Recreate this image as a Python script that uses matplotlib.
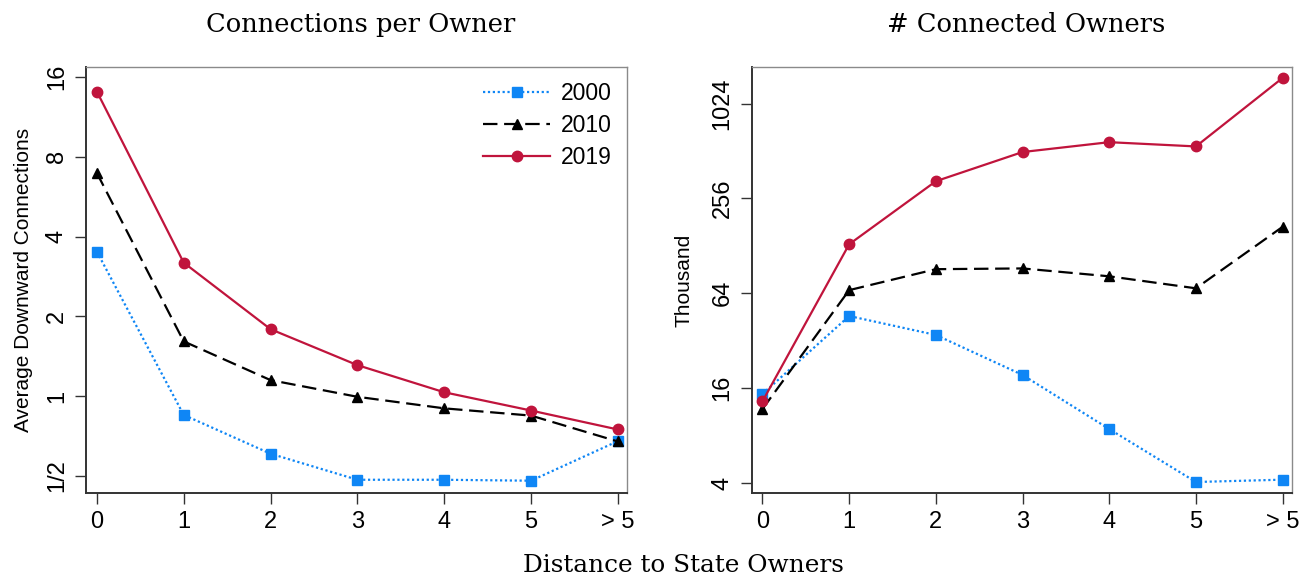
import numpy as np
import matplotlib
matplotlib.use("Agg")
import matplotlib.pyplot as plt

# distance categories shared by both panels
dist_labels = ["0", "1", "2", "3", "4", "5", "> 5"]
years = ["2000", "2010", "2019"]

# average downward connections per owner
conn_2000 = [3.51, 0.85, 0.607, 0.484, 0.484, 0.48, 0.677]
conn_2010 = [6.95, 1.61, 1.15, 0.995, 0.90, 0.845, 0.675]
conn_2019 = [14.1, 3.19, 1.79, 1.31, 1.035, 0.883, 0.749]

# number of connected owners (thousand)
own_2000 = [14.7, 45.9, 34.8, 19.4, 8.8, 4.06, 4.2]
own_2010 = [11.8, 67, 91, 92, 82, 68.8, 169]
own_2019 = [13.2, 131, 329, 504, 582, 547, 1488]

left_ticks = [0.5, 1, 2, 4, 8, 16]
left_ticklabels = ["1/2", "1", "2", "4", "8", "16"]
right_ticks = [4, 16, 64, 256, 1024]
right_ticklabels = ["4", "16", "64", "256", "1024"]

styles = {
    "2000": dict(color="#0f86f5", linestyle=(0, (1, 1.2)), marker="s", markersize=7),
    "2010": dict(color="black", linestyle=(0, (6.5, 3)), marker="^", markersize=7.5),
    "2019": dict(color="#c0143c", linestyle="-", marker="o", markersize=7.5),
}

plt.rcParams["font.family"] = ["Liberation Sans", "DejaVu Sans"]

fig = plt.figure(figsize=(13.07, 5.81), dpi=100)
ax1 = fig.add_axes([0.0658, 0.1515, 0.4139, 0.7332])
ax2 = fig.add_axes([0.5751, 0.1515, 0.4132, 0.7332])

x = np.arange(len(dist_labels))

for y, year in zip([conn_2000, conn_2010, conn_2019], years):
    ax1.plot(x, y, linewidth=1.6, label=year, **styles[year])
for y, year in zip([own_2000, own_2010, own_2019], years):
    ax2.plot(x, y, linewidth=1.6, label=year, **styles[year])


def style_axes(ax, ticks, ticklabels, ylim):
    ax.set_yscale("log", base=2)
    ax.set_ylim(*ylim)
    ax.set_yticks(ticks)
    ax.set_yticklabels(ticklabels, rotation=90, va="center")
    ax.yaxis.set_minor_locator(matplotlib.ticker.NullLocator())
    ax.set_xticks(x)
    ax.set_xticklabels(dist_labels)
    ax.set_xlim(-0.125, 6.105)
    ax.tick_params(axis="both", labelsize=17, length=8, width=1, color="#333333", pad=5)
    for s in ["left", "bottom"]:
        ax.spines[s].set_color("#333333")
        ax.spines[s].set_linewidth(1.4)
    for s in ["top", "right"]:
        ax.spines[s].set_color("#8a8a8a")
        ax.spines[s].set_linewidth(1.0)


style_axes(ax1, left_ticks, left_ticklabels, (2 ** -1.2125, 2 ** 4.125))
style_axes(ax2, right_ticks, right_ticklabels, (2 ** 1.79, 2 ** 10.77))

ax1.set_ylabel("Average Downward Connections", fontsize=15, labelpad=9)
ax2.set_ylabel("Thousand", fontsize=15, labelpad=13)

ax1.legend(loc="upper right", frameon=False, fontsize=16.5, handlelength=2.9,
           labelspacing=0.4, borderaxespad=0.25, handletextpad=0.5)

fig.text(0.276, 0.958, "Connections per Owner", family="DejaVu Serif",
         fontsize=18.5, ha="center", va="center")
fig.text(0.785, 0.958, "# Connected Owners", family="DejaVu Serif",
         fontsize=18.5, ha="center", va="center")
fig.text(0.523, 0.026, "Distance to State Owners", family="DejaVu Serif",
         fontsize=17.8, ha="center", va="center")

fig.savefig("out.png", dpi=100)
